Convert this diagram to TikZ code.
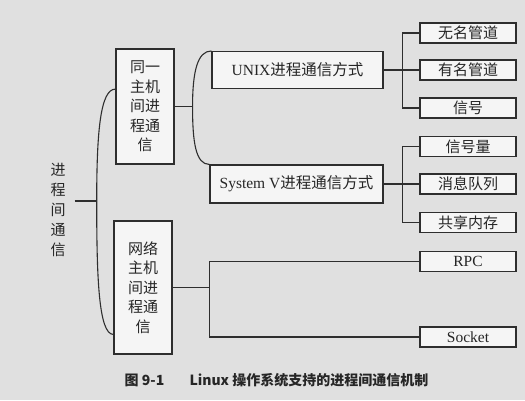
\documentclass[tikz,border=0pt]{standalone}
\usepackage{fontspec}
\setmainfont{Liberation Serif}
\newfontfamily\cjk{Noto Sans CJK SC}
\usetikzlibrary{calc,positioning}
\definecolor{bgcol}{gray}{0.88}
\definecolor{boxcol}{gray}{0.96}
\definecolor{linecol}{gray}{0.18}
\definecolor{txtcol}{gray}{0.15}
\newcommand{\zh}[1]{{\cjk #1}}

\begin{document}
\begin{tikzpicture}[x=1pt,y=-1pt,
  link/.style={draw=linecol,line width=1.1pt},
  box/.style={draw=linecol,line width=1.1pt,fill=boxcol,text=txtcol,inner sep=0pt,align=center,font=\fontsize{15.5}{19.5}\selectfont},
  cjk/.style={font=\cjk\fontsize{15}{19.5}\selectfont},
  hostbox/.style={box,cjk,minimum width=58pt},
  waybox/.style={box,minimum height=37pt},
  leafbox/.style={box,minimum width=96pt,minimum height=20pt}]
%background
\fill[bgcol] (0,0) rectangle (525,400);
%root
\node[text=txtcol,align=center,inner xsep=9pt,inner ysep=0pt,font=\cjk\fontsize{15}{20}\selectfont] (root) at (58,210) {进\\程\\间\\通\\信};
%hosts
\node[hostbox,minimum height=115pt] (same) at (145,106.5) {同一\\主机\\间进\\程通\\信};
\node[hostbox,minimum height=133pt] (net) at (143,287.5) {网络\\主机\\间进\\程通\\信};
%ways
\node[waybox,minimum width=171pt] (unix) at (297.5,70) {UNIX\zh{进程通信方式}};
\node[waybox,minimum width=173pt,minimum height=38pt] (sysv) at (296.5,184) {System V\zh{进程通信方式}};
%leaves
\foreach \i/\y/\texti in {1/33/无名管道,2/70/有名管道,3/108/信号,4/146.5/信号量,5/184/消息队列,6/222.5/共享内存} {
    \node[leafbox,cjk] (leaf\i) at (468,\y) {\texti};
}
\node[leafbox] (rpc) at (468,261.5) {RPC};
\node[leafbox] (socket) at (468,337) {Socket};
%root bracket
\coordinate (jR) at ($(root.east)+(22,-9)$);
\coordinate (b1) at ($(same.north west)!0.35!(same.south west)$);
\coordinate (b2) at ($(net.north west)!0.85!(net.south west)$);
\draw[link] (jR -| root.east) -- (jR);
\draw[link] (b1) .. controls +(-15,0) and +(0,-70) .. (jR) .. controls +(0,75) and +(-15,0) .. (b2);
%same host bracket
\coordinate (jA) at ($(same.east)+(18,0)$);
\draw[link] (same.east) -- (jA);
\draw[link] (unix.north west) .. controls +(-14,0) and +(0,-35) .. (jA) .. controls +(0,35) and +(-14,0) .. (sysv.north west);
%unix and system v
\coordinate (jU) at ($(unix.east)+(19,0)$);
\coordinate (jS) at ($(sysv.east)+(19,0)$);
\draw[link] (unix.east) -- (jU);
\draw[link] (sysv.east) -- (jS);
\foreach \i in {1,2,3} {
    \draw[link] (jU) |- (leaf\i.west);
}
\foreach \i in {4,5,6} {
    \draw[link] (jS) |- (leaf\i.west);
}
%network
\coordinate (jN) at ($(net.east)+(37,0)$);
\draw[link] (net.east) -- (jN);
\foreach \n in {rpc,socket} {
    \draw[link] (jN) |- (\n.west);
}
%caption
\node[text=txtcol,font=\cjk\bfseries\fontsize{14}{16}\selectfont] (caption) at (276.5,380) {图 9-1\hspace{1.8em}Linux 操作系统支持的进程间通信机制};
\end{tikzpicture}
\end{document}
